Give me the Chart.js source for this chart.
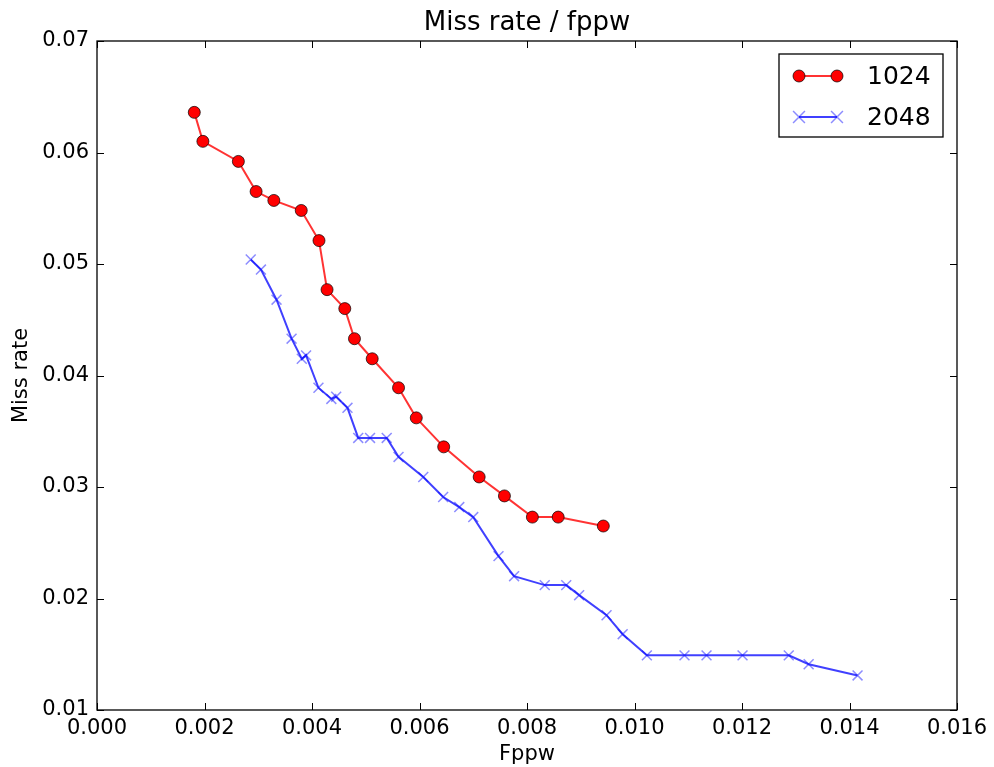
<!DOCTYPE html>
<html>
<head>
<meta charset="utf-8">
<script src="https://cdn.jsdelivr.net/npm/chart.js@4"></script>
<style>
  html, body { margin: 0; padding: 0; background: #fff; }
  canvas { display: block; }
</style>
</head>
<body>
<canvas id="chart" width="994" height="767"></canvas>
<script>
// series 1024
const fppw1024 = [0.00181, 0.00197, 0.00263, 0.00296, 0.00329, 0.0038, 0.00413, 0.00428, 0.00461, 0.00479,
  0.00512, 0.00561, 0.00594, 0.00645, 0.00711, 0.00758, 0.0081, 0.00858, 0.00942]
const miss1024 = [0.0636, 0.0610, 0.0592, 0.0565, 0.0557, 0.0548, 0.0521, 0.0477, 0.0460, 0.0433,
  0.0415, 0.0389, 0.0362, 0.0336, 0.0309, 0.0292, 0.0273, 0.0273, 0.0265]

// series 2048
const fppw2048 = [0.00286, 0.00305, 0.00334, 0.00362, 0.00381, 0.00389, 0.00412, 0.00436, 0.00445, 0.00466,
  0.00486, 0.00508, 0.00539, 0.00561, 0.00607, 0.00644, 0.00674, 0.0070, 0.00747, 0.00776,
  0.00833, 0.00873, 0.00897, 0.00948, 0.00978, 0.01023, 0.01093, 0.01134, 0.01201, 0.01287,
  0.01324, 0.01415]
const miss2048 = [0.0504, 0.0495, 0.0468, 0.0433, 0.0415, 0.0418, 0.0389, 0.0379, 0.0381, 0.0371,
  0.0344, 0.0344, 0.0344, 0.0327, 0.0309, 0.0291, 0.0282, 0.0273, 0.0238, 0.0220,
  0.0212, 0.0212, 0.0203, 0.0185, 0.0168, 0.0149, 0.0149, 0.0149, 0.0149, 0.0149,
  0.0141, 0.0131]

const seriesLabels = ["1024", "2048"]
const xTicks = [0, 0.002, 0.004, 0.006, 0.008, 0.010, 0.012, 0.014, 0.016]
const yTicks = [0.01, 0.02, 0.03, 0.04, 0.05, 0.06, 0.07]
const chartTitle = "Miss rate / fppw"

const FONT = "'DejaVu Sans', 'Liberation Sans', sans-serif"
const pts = (xs, ys) => xs.map((x, i) => ({ x, y: ys[i] }))

// matplotlib-like frame with inward ticks on all four sides, title centred over the axes
const framePlugin = {
  id: "frame",
  afterDatasetsDraw(chart) {
    const { ctx, chartArea: a, scales } = chart
    ctx.save()
    ctx.strokeStyle = "#000"
    ctx.lineWidth = 1
    const len = 7
    ctx.beginPath()
    xTicks.forEach(v => {
      const px = Math.round(scales.x.getPixelForValue(v)) + 0.5
      ctx.moveTo(px, a.bottom); ctx.lineTo(px, a.bottom - len)
      ctx.moveTo(px, a.top); ctx.lineTo(px, a.top + len)
    })
    yTicks.forEach(v => {
      const py = Math.round(scales.y.getPixelForValue(v)) + 0.5
      ctx.moveTo(a.left, py); ctx.lineTo(a.left + len, py)
      ctx.moveTo(a.right, py); ctx.lineTo(a.right - len, py)
    })
    ctx.stroke()
    ctx.lineWidth = 1.3
    ctx.strokeRect(a.left, a.top, a.right - a.left, a.bottom - a.top)

    ctx.fillStyle = "#000"
    ctx.font = "26px " + FONT
    ctx.textAlign = "center"
    ctx.textBaseline = "alphabetic"
    ctx.fillText(chartTitle, (a.left + a.right) / 2, a.top - 11)
    ctx.restore()
  }
}

// legend box: line sample with a marker at each end
const legendPlugin = {
  id: "mplLegend",
  afterDraw(chart) {
    const { ctx, chartArea: a } = chart
    const box = { x: a.right - 178, y: a.top + 13, w: 164, h: 83 }
    ctx.save()
    ctx.fillStyle = "#fff"
    ctx.fillRect(box.x, box.y, box.w, box.h)
    ctx.strokeStyle = "#000"
    ctx.lineWidth = 1.3
    ctx.strokeRect(box.x, box.y, box.w, box.h)
    chart.data.datasets.forEach((ds, i) => {
      const y = box.y + 22 + i * 41
      const x0 = box.x + 20, x1 = box.x + 58
      ctx.strokeStyle = ds.borderColor
      ctx.lineWidth = ds.borderWidth
      ctx.beginPath(); ctx.moveTo(x0, y); ctx.lineTo(x1, y); ctx.stroke()
      ;[x0, x1].forEach(x => {
        ctx.fillStyle = ds.pointBackgroundColor
        ctx.strokeStyle = ds.pointBorderColor
        ctx.lineWidth = ds.pointBorderWidth
        ctx.beginPath()
        if (ds.pointStyle === "circle") {
          ctx.arc(x, y, ds.pointRadius, 0, Math.PI * 2)
          ctx.fill(); ctx.stroke()
        } else {
          const r = ds.pointRadius * Math.SQRT1_2 + 1
          ctx.moveTo(x - r, y - r); ctx.lineTo(x + r, y + r)
          ctx.moveTo(x + r, y - r); ctx.lineTo(x - r, y + r)
          ctx.stroke()
        }
      })
      ctx.fillStyle = "#000"
      ctx.font = "25px " + FONT
      ctx.textBaseline = "middle"
      ctx.textAlign = "left"
      ctx.fillText(ds.label, box.x + 88, y + 1)
    })
    ctx.restore()
  }
}

new Chart(document.getElementById("chart"), {
  type: "scatter",
  data: {
    datasets: [
      {
        label: seriesLabels[0],
        data: pts(fppw1024, miss1024),
        showLine: true,
        borderColor: "rgba(255,0,0,0.8)",
        borderWidth: 2,
        pointStyle: "circle",
        pointRadius: 6,
        pointHoverRadius: 6,
        pointBackgroundColor: "#ff0000",
        pointBorderColor: "rgba(0,0,0,0.7)",
        pointBorderWidth: 1
      },
      {
        label: seriesLabels[1],
        data: pts(fppw2048, miss2048),
        showLine: true,
        borderColor: "rgba(0,0,255,0.75)",
        borderWidth: 2,
        pointStyle: "crossRot",
        pointRadius: 7,
        pointHoverRadius: 7,
        pointBackgroundColor: "rgba(0,0,255,0.45)",
        pointBorderColor: "rgba(0,0,255,0.45)",
        pointBorderWidth: 1.5
      }
    ]
  },
  options: {
    responsive: false,
    animation: false,
    events: [],
    layout: { padding: { left: 0, right: 37, top: 41, bottom: 0 } },
    plugins: {
      legend: { display: false },
      tooltip: { enabled: false },
      title: { display: false }
    },
    scales: {
      x: {
        type: "linear",
        min: 0,
        max: 0.016,
        afterFit: s => { s.height = 57 },
        afterBuildTicks: s => { s.ticks = xTicks.map(v => ({ value: v })) },
        grid: { display: false, drawTicks: false },
        border: { display: false },
        ticks: {
          color: "#000",
          padding: 6,
          maxRotation: 0,
          autoSkip: false,
          font: { family: FONT, size: 21 },
          callback: v => v.toFixed(3)
        },
        title: {
          display: true,
          text: "Fppw",
          color: "#000",
          padding: { top: 0, bottom: 0 },
          font: { family: FONT, size: 21 }
        }
      },
      y: {
        type: "linear",
        min: 0.01,
        max: 0.07,
        afterFit: s => { s.width = 97 },
        afterBuildTicks: s => { s.ticks = yTicks.map(v => ({ value: v })) },
        grid: { display: false, drawTicks: false },
        border: { display: false },
        ticks: {
          color: "#000",
          padding: 8,
          autoSkip: false,
          font: { family: FONT, size: 21 },
          callback: v => v.toFixed(2)
        },
        title: {
          display: true,
          text: "Miss rate",
          color: "#000",
          padding: { top: 9, bottom: 0 },
          font: { family: FONT, size: 21 }
        }
      }
    }
  },
  plugins: [framePlugin, legendPlugin]
})
</script>
</body>
</html>
